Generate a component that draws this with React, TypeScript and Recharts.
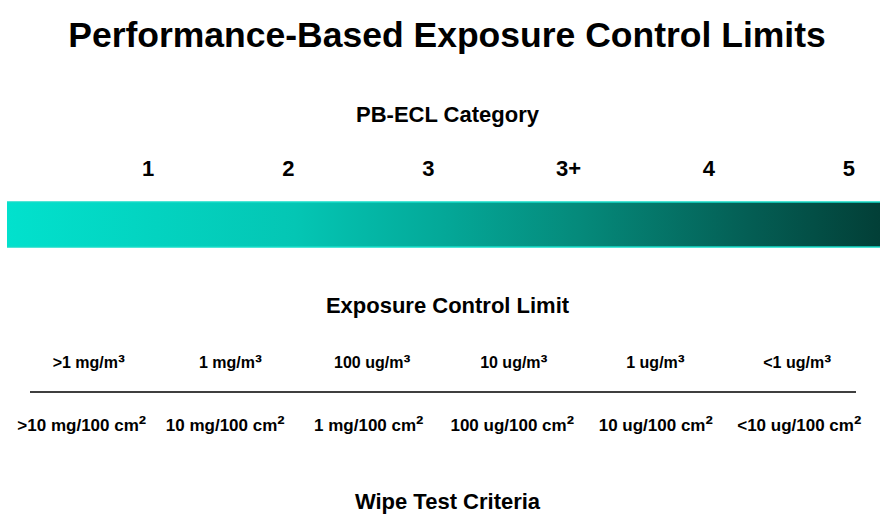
import { Bar, ComposedChart, ReferenceLine, XAxis, YAxis } from 'recharts';

// PB-ECL bands, left (least potent) to right (most potent)
const categories = ['1', '2', '3', '3+', '4', '5'];
const exposureLimits = ['>1 mg/m³', '1 mg/m³', '100 ug/m³', '10 ug/m³', '1 ug/m³', '<1 ug/m³'];
const wipeCriteria = [
  '>10 mg/100 cm²',
  '10 mg/100 cm²',
  '1 mg/100 cm²',
  '100 ug/100 cm²',
  '10 ug/100 cm²',
  '<10 ug/100 cm²',
];
// every band fills the scale bar
const bandSpan = [1, 1, 1, 1, 1, 1];

const data = categories.map((cat, i) => ({
  cat,
  limit: exposureLimits[i],
  wipe: wipeCriteria[i],
  span: bandSpan[i],
}));

const FONT = '"Liberation Sans", Arial, Helvetica, sans-serif';
const heading = { fill: '#000', fontSize: 22, fontWeight: 700, dx: 4 };

// unit labels: the ² / ³ glyphs are tiny in Liberation, so bump them up a bit
function unitTick(fontSize: number) {
  return (props: any) => {
    const { x, y, payload } = props;
    const s = String(payload.value);
    const last = s.slice(-1);
    const hasSup = last === '²' || last === '³';
    return (
      <text x={x} y={y} dy={fontSize * 0.71} textAnchor="middle" fontSize={fontSize} fontWeight={700} fill="#000">
        {hasSup ? s.slice(0, -1) : s}
        {hasSup && <tspan fontSize={fontSize * 1.3} dy={1}>{last}</tspan>}
      </text>
    );
  };
}

export default function App() {
  return (
    <div
      style={{
        position: 'absolute',
        left: 0,
        top: 0,
        width: 880,
        height: 515,
        background: '#fff',
        fontFamily: FONT,
        overflow: 'hidden',
      }}
    >
      <div
        style={{
          position: 'absolute',
          top: 18,
          left: 7,
          width: 880,
          textAlign: 'center',
          fontSize: 35.5,
          lineHeight: '35px',
          fontWeight: 700,
          color: '#000',
        }}
      >
        Performance-Based Exposure Control Limits
      </div>
      <ComposedChart
        width={880}
        height={515}
        data={data}
        margin={{ top: 70, right: 0, bottom: 0, left: 7 }}
        barCategoryGap={0}
        barGap={0}
        style={{ position: 'absolute', left: 0, top: 0 }}
      >
        <defs>
          <linearGradient id="pbecl" gradientUnits="userSpaceOnUse" x1="7" y1="0" x2="880" y2="0">
            <stop offset="0%" stopColor="#02e1cd" />
            <stop offset="33%" stopColor="#04c6b4" />
            <stop offset="50%" stopColor="#04a898" />
            <stop offset="66%" stopColor="#05897a" />
            <stop offset="85%" stopColor="#045e54" />
            <stop offset="100%" stopColor="#023f37" />
          </linearGradient>
        </defs>
        <XAxis xAxisId="bar" dataKey="cat" hide height={0} />
        <XAxis
          xAxisId="cat"
          dataKey="cat"
          orientation="top"
          height={132}
          interval={0}
          axisLine={false}
          tickLine={false}
          tickSize={0}
          tickMargin={26}
          padding={{ left: 71, right: -39 }}
          tick={{ fill: '#000', fontSize: 22, fontWeight: 700 }}
          label={{ value: 'PB-ECL Category', position: 'insideTop', offset: 36, ...heading }}
        />
        <XAxis
          xAxisId="limit"
          dataKey="limit"
          orientation="bottom"
          height={145}
          interval={0}
          axisLine={false}
          tickLine={false}
          tickSize={0}
          tickMargin={110}
          padding={{ left: 11, right: 12 }}
          tick={unitTick(16)}
          label={{ value: 'Exposure Control Limit', position: 'insideTop', offset: 50, ...heading }}
        />
        <XAxis
          xAxisId="wipe"
          dataKey="wipe"
          orientation="bottom"
          height={123}
          interval={0}
          axisLine={{ stroke: '#000', strokeWidth: 1.4, strokeDasharray: '0 23 826 2000' }}
          tickLine={false}
          tickSize={0}
          tickMargin={27}
          padding={{ left: 3, right: 9 }}
          tick={unitTick(17)}
          label={{ value: 'Wipe Test Criteria', position: 'insideTop', offset: 101, ...heading }}
        />
        <YAxis hide domain={[0, 1]} />
        <Bar xAxisId="bar" dataKey="span" fill="url(#pbecl)" isAnimationActive={false} />
        <ReferenceLine xAxisId="bar" y={1} stroke="#16dcc9" strokeWidth={1.5} />
        <ReferenceLine xAxisId="bar" y={0} stroke="#16dcc9" strokeWidth={1.5} />
      </ComposedChart>
    </div>
  );
}
